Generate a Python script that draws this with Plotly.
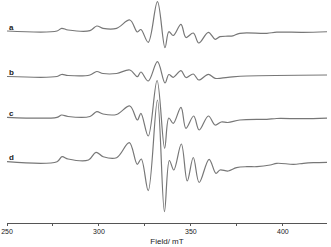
import plotly.graph_objects as go

# Field values (mT) and derivative intensities (arb. units)
field_a = [250, 277.2, 279.7, 283.2, 295.1, 298.8, 302.2, 309.6, 316.8, 320.9, 322.8, 326.8, 331.8, 335.9,
           338.0, 340.4, 344.6, 347.3, 351.3, 354.3, 359.5, 363.2, 365.8, 370.1, 372.8, 376.6, 391.3,
           396.7, 410.9, 424.5]
int_a = [0, 0, 2.7, 1, 0.3, 5, 2.7, 2.7, 11, -1, 1.5, -11.3, 29.3, -16.7, -0.7, -4.5, 6.7, -6.5, -2, -12,
         -1.3, -8.3, -5.7, -5.2, -4.8, -2.3, -2.3, -1.2, -1.3, -0.7]

field_b = [250, 277.2, 279.7, 283.2, 295.1, 298.8, 302.2, 309.6, 316.8, 320.9, 322.8, 326.8, 331.8, 335.9,
           338.0, 340.4, 344.6, 347.3, 351.3, 354.3, 359.5, 363.2, 370.1, 380.4, 424.5]
int_b = [0, 0, 2, 1, 1.5, 5, 3, 3, 6.5, -0.2, 4.5, -4.5, 14.8, -6.5, 2, -0.8, 5.8, -1, 2.5, -3.5, 2.2,
         -1.8, -0.8, 0.5, 1.5]

field_c = [250, 277.2, 279.7, 283.2, 295.1, 298.8, 302.2, 309.6, 316.8, 320.9, 322.8, 326.8, 331.6, 335.7,
           338.0, 340.4, 344.6, 347.3, 351.5, 354.5, 359.5, 363.2, 366.5, 370.1, 376.6, 391.3, 396.7,
           410.9, 424.5]
int_c = [0, 0, 2.3, 0.8, 0.8, 5.6, 3.3, 2.8, 11.3, -2.7, 4, -18.7, 36.8, -31, -0.7, -6, 10, -11, 1.3,
         -12.7, 1.3, -7.7, -4.7, -5.2, -2.7, -2, -1.2, -1.4, -0.7]

field_d = [250, 277.2, 279.9, 283.2, 294.3, 298.4, 302.3, 309.6, 316.5, 320.8, 323.0, 326.8, 331.8, 335.6,
           338.3, 340.7, 344.8, 348.0, 351.3, 354.5, 359.9, 363.6, 365.8, 370.3, 374.8, 380.4, 385.9,
           393.1, 396.7, 405.8, 411.2, 416.6, 424.5]
int_d = [0, 0, 5, 2.7, 1.7, 9.4, 5, 4, 19, -2.6, 2.7, -29, 61.7, -50, 1.2, -8.3, 17.7, -19.3, 4.2, -20.8,
         2.4, -11.6, -8.3, -9.3, -6, -5, -5, -3.3, -1.6, -2.6, -1.6, -1, -0.6]

labels = ["a", "b", "c", "d"]
offsets = [192, 146.5, 105.7, 61.3]
tick_vals = [250, 300, 350, 400]
tick_text = ["250", "300", "350", "400"]
x_title = "Field/ mT"

fields = [field_a, field_b, field_c, field_d]
ints = [int_a, int_b, int_c, int_d]

fig = go.Figure()
for lab, fx, iy, off in zip(labels, fields, ints, offsets):
    fig.add_trace(go.Scatter(
        x=fx, y=[v + off for v in iy], mode="lines", name=lab,
        line=dict(color="#777777", width=1.2, shape="spline", smoothing=1.0),
        showlegend=False, hoverinfo="skip"))
    fig.add_annotation(x=250, y=off + 4, xref="x", yref="y", text="<b>" + lab + "</b>", showarrow=False,
                       xanchor="left", yanchor="middle",
                       font=dict(family="Liberation Sans, Arial", size=8, color="#222222"))

fig.update_layout(
    width=331, height=247,
    margin=dict(l=7, r=4, t=0, b=24),
    paper_bgcolor="white", plot_bgcolor="white",
    font=dict(family="Liberation Sans, Arial", size=7, color="#222222"),
)
fig.update_xaxes(
    range=[250, 424], showgrid=False, zeroline=False,
    showline=True, linecolor="#555555", linewidth=1,
    ticks="outside", ticklen=2, tickcolor="#555555", tickwidth=1,
    tickvals=tick_vals, ticktext=tick_text,
    tickfont=dict(size=7, color="#222222"),
    minor=dict(ticks="outside", ticklen=2, tickcolor="#555555", dtick=25, tick0=250),
    title=dict(text=x_title, font=dict(size=8, color="#222222"), standoff=3),
)
fig.update_yaxes(range=[0, 223], visible=False, showgrid=False, zeroline=False)

fig.write_html("out.html", config={"displayModeBar": False},
               post_script="document.body.style.margin='0';document.body.style.padding='0';")
